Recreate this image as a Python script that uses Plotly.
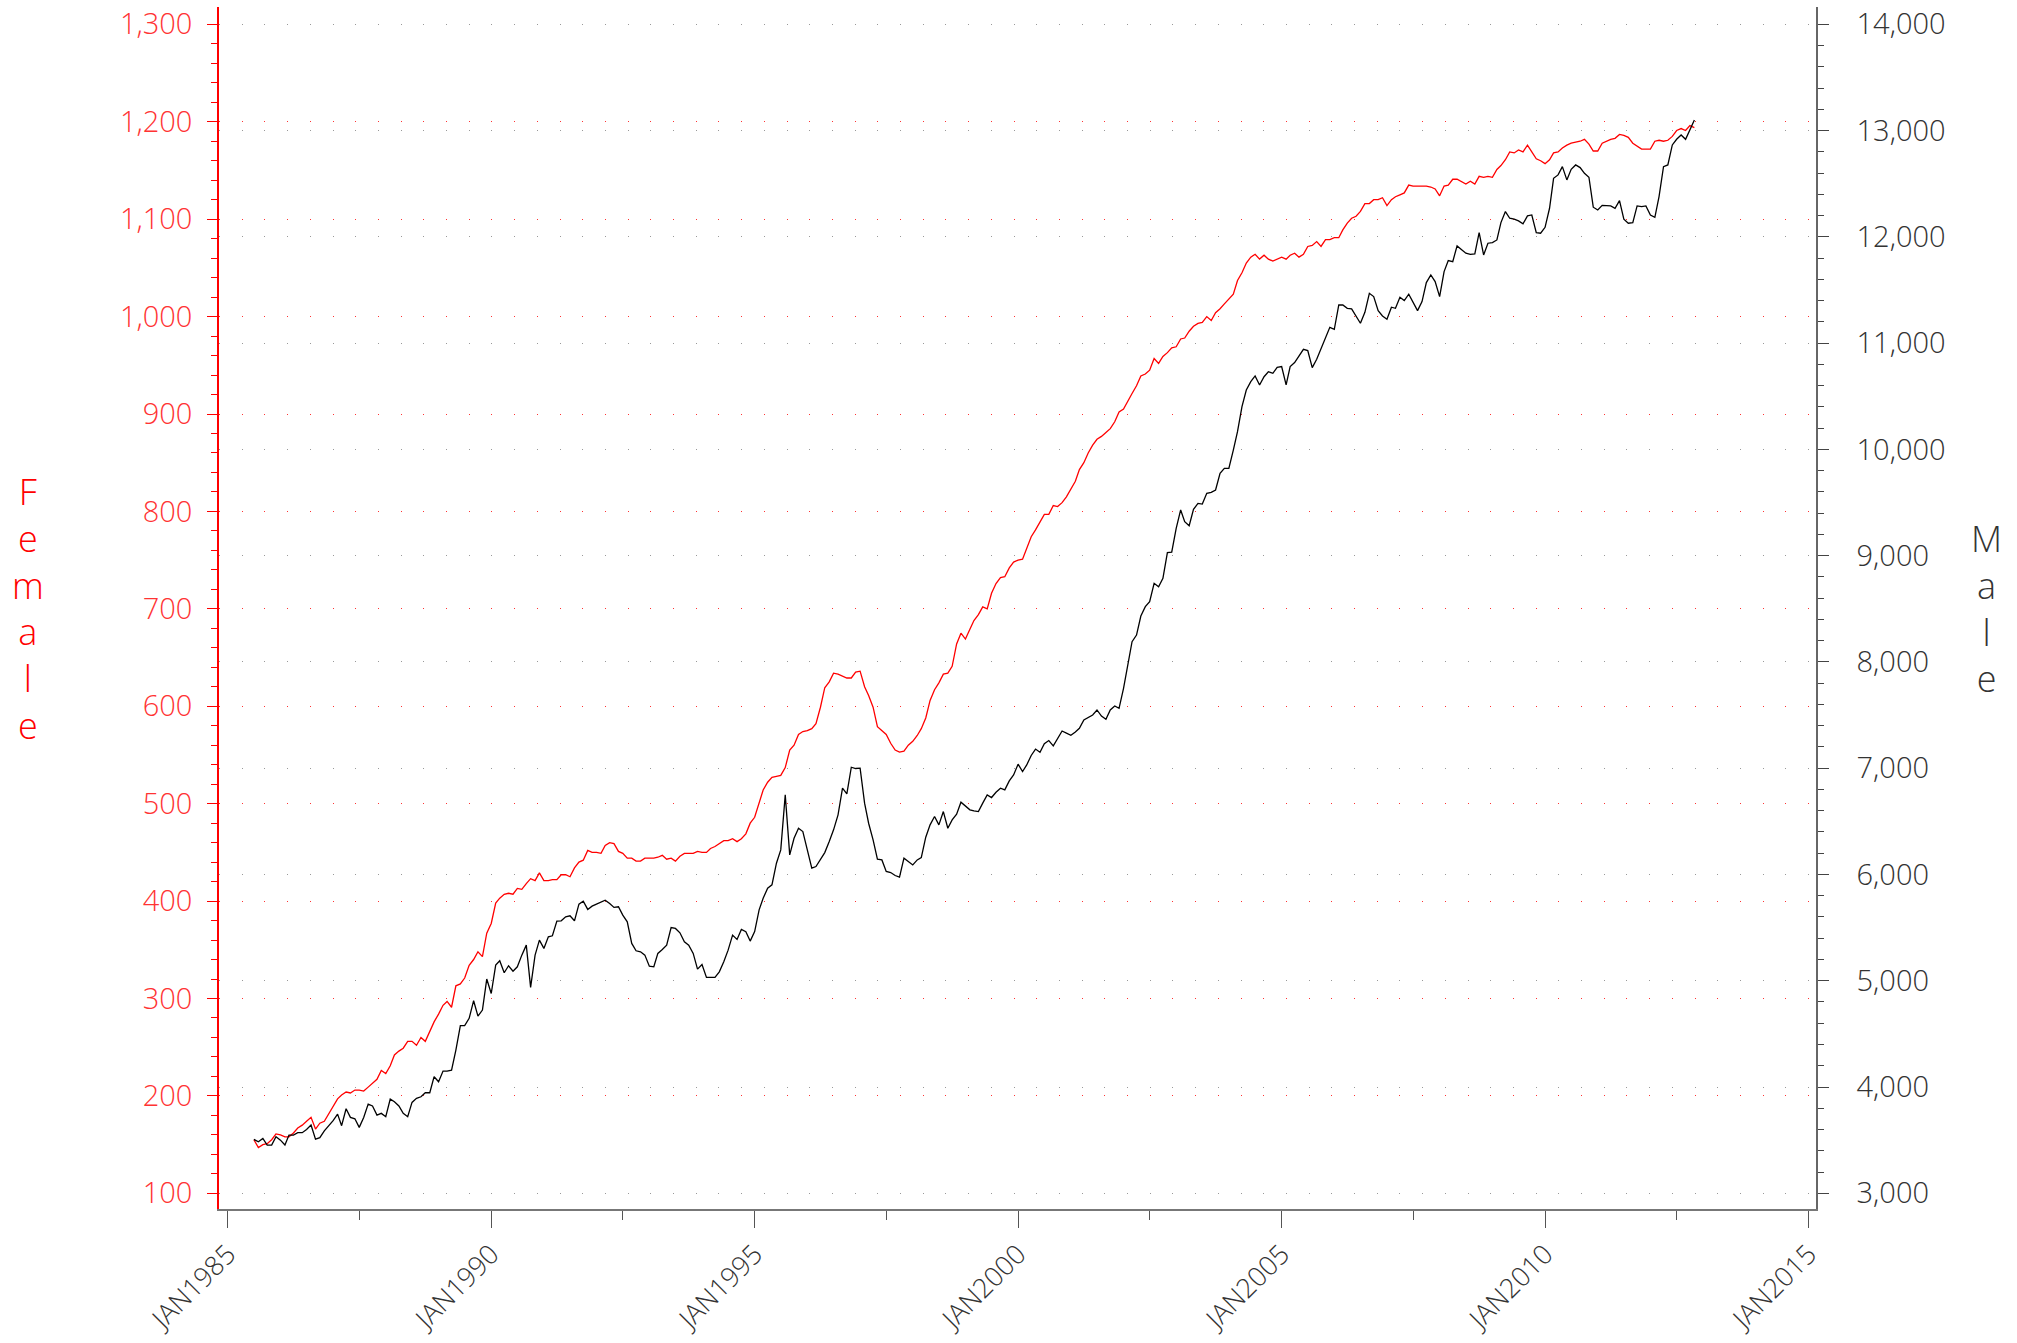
import plotly.graph_objects as go
import pandas as pd

# Monthly observations, Jul 1985 .. Nov 2012
months = pd.date_range("1985-07-01", "2012-11-01", freq="MS")

female = [
    # 1985 Jul-Dec
    155, 147, 150, 151, 155, 161,
    # 1986
    160, 158, 158, 162, 167, 170, 174, 178, 166, 172, 174, 182,
    # 1987
    189, 197, 201, 204, 203, 206, 206, 205, 209, 213, 217, 226,
    # 1988
    223, 231, 242, 246, 249, 256, 256, 252, 260, 256, 266, 276,
    # 1989
    284, 293, 297, 291, 313, 315, 321, 334, 340, 348, 343, 367,
    # 1990
    377, 398, 403, 407, 408, 407, 413, 412, 418, 423, 421, 429,
    # 1991
    421, 421, 422, 422, 427, 427, 425, 434, 440, 442, 452, 450,
    # 1992
    450, 449, 457, 460, 459, 451, 449, 444, 444, 441, 441, 444,
    # 1993
    444, 444, 445, 447, 443, 444, 441, 446, 449, 449, 449, 451,
    # 1994
    450, 450, 454, 456, 459, 462, 462, 464, 461, 464, 469, 480,
    # 1995
    486, 500, 514, 522, 527, 528, 529, 537, 555, 560, 571, 574,
    # 1996
    575, 577, 582, 599, 619, 625, 634, 633, 631, 629, 629, 635,
    # 1997
    636, 620, 611, 599, 579, 575, 571, 562, 555, 553, 554, 560,
    # 1998
    564, 570, 577, 588, 606, 617, 624, 633, 634, 641, 664, 675,
    # 1999
    669, 679, 688, 694, 702, 700, 716, 726, 732, 733, 742, 748,
    # 2000
    750, 751, 763, 774, 781, 790, 797, 797, 806, 805, 809, 815,
    # 2001
    823, 831, 843, 850, 860, 868, 874, 877, 881, 885, 892, 902,
    # 2002
    905, 914, 921, 929, 939, 941, 945, 957, 952, 959, 963, 968,
    # 2003
    969, 977, 978, 985, 990, 993, 994, 1000, 996, 1004, 1008, 1013,
    # 2004
    1018, 1023, 1037, 1045, 1055, 1061, 1064, 1059, 1063, 1059, 1057, 1059,
    # 2005
    1061, 1059, 1063, 1065, 1061, 1064, 1072, 1073, 1077, 1072, 1079, 1079,
    # 2006
    1081, 1081, 1089, 1096, 1101, 1103, 1108, 1116, 1116, 1120, 1120, 1122,
    # 2007
    1114, 1120, 1123, 1125, 1127, 1135, 1134, 1134, 1134, 1134, 1133, 1131,
    # 2008
    1124, 1134, 1135, 1141, 1141, 1138, 1136, 1139, 1136, 1144, 1143, 1144,
    # 2009
    1143, 1151, 1155, 1161, 1169, 1168, 1171, 1169, 1176, 1169, 1162, 1160,
    # 2010
    1157, 1161, 1168, 1169, 1173, 1176, 1178, 1179, 1180, 1182, 1177, 1170,
    # 2011
    1170, 1178, 1180, 1182, 1183, 1187, 1186, 1184, 1178, 1175, 1172, 1172,
    # 2012 Jan-Nov
    1172, 1180, 1181, 1180, 1181, 1185, 1191, 1193, 1191, 1196, 1194,
]

male = [
    # 1985 Jul-Dec
    3507, 3485, 3516, 3454, 3454, 3532,
    # 1986
    3500, 3454, 3548, 3548, 3570, 3570, 3601, 3642, 3510, 3523, 3588, 3632,
    # 1987
    3683, 3745, 3636, 3795, 3714, 3701, 3620, 3714, 3839, 3821, 3736, 3752,
    # 1988
    3720, 3886, 3861, 3821, 3752, 3720, 3855, 3893, 3908, 3946, 3946, 4097,
    # 1989
    4050, 4150, 4150, 4159, 4348, 4577, 4577, 4646, 4812, 4667, 4724, 5016,
    # 1990
    4880, 5147, 5188, 5075, 5141, 5090, 5131, 5241, 5335, 4937, 5241, 5382,
    # 1991
    5304, 5413, 5423, 5561, 5564, 5602, 5611, 5564, 5721, 5749, 5671, 5702,
    # 1992
    5721, 5733, 5758, 5727, 5690, 5696, 5617, 5555, 5351, 5282, 5272, 5241,
    # 1993
    5137, 5131, 5257, 5294, 5335, 5501, 5492, 5451, 5366, 5335, 5257, 5109,
    # 1994
    5153, 5031, 5031, 5031, 5084, 5178, 5288, 5429, 5388, 5482, 5461, 5373,
    # 1995
    5463, 5667, 5777, 5871, 5902, 6106, 6231, 6749, 6184, 6341, 6435, 6404,
    # 1996
    6231, 6059, 6075, 6137, 6206, 6310, 6420, 6561, 6812, 6758, 7009, 6997,
    # 1997
    7000, 6671, 6482, 6326, 6144, 6137, 6028, 6018, 5990, 5974, 6153, 6122,
    # 1998
    6090, 6137, 6159, 6351, 6467, 6545, 6467, 6592, 6435, 6514, 6567, 6680,
    # 1999
    6646, 6608, 6598, 6592, 6671, 6749, 6724, 6774, 6812, 6796, 6881, 6937,
    # 2000
    7038, 6969, 7031, 7120, 7180, 7150, 7230, 7260, 7210, 7280, 7350, 7330,
    # 2001
    7310, 7340, 7375, 7454, 7479, 7501, 7548, 7491, 7460, 7548, 7585, 7563,
    # 2002
    7752, 7987, 8191, 8253, 8432, 8520, 8567, 8740, 8708, 8787, 9028, 9034,
    # 2003
    9257, 9430, 9320, 9282, 9436, 9492, 9486, 9587, 9596, 9618, 9775, 9822,
    # 2004
    9822, 9994, 10167, 10402, 10559, 10637, 10691, 10606, 10684, 10731, 10716, 10772,
    # 2005
    10779, 10607, 10779, 10817, 10879, 10942, 10930, 10770, 10848, 10952, 11055, 11149,
    # 2006
    11130, 11359, 11359, 11328, 11322, 11256, 11187, 11290, 11469, 11438, 11306, 11256,
    # 2007
    11225, 11338, 11328, 11432, 11400, 11460, 11391, 11306, 11391, 11570, 11642, 11579,
    # 2008
    11438, 11673, 11777, 11767, 11915, 11877, 11846, 11836, 11839, 12040, 11830, 11940,
    # 2009
    11946, 11971, 12134, 12238, 12175, 12166, 12150, 12122, 12197, 12206, 12040, 12034,
    # 2010
    12090, 12269, 12551, 12583, 12661, 12536, 12636, 12677, 12652, 12598, 12561, 12279,
    # 2011
    12253, 12297, 12297, 12291, 12269, 12341, 12166, 12128, 12134, 12291, 12285, 12291,
    # 2012 Jan-Nov
    12206, 12184, 12379, 12661, 12677, 12865, 12918, 12959, 12918, 13006, 13100,
]

x_tick_years = [1985, 1990, 1995, 2000, 2005, 2010, 2015]
x_tick_labels = ["JAN1985", "JAN1990", "JAN1995", "JAN2000", "JAN2005", "JAN2010", "JAN2015"]
x_minor_ticks = ["1987-07-01", "1992-07-01", "1997-07-01", "2002-07-01", "2007-07-01", "2012-07-01"]
female_ticks = list(range(100, 1301, 100))
male_ticks = list(range(3000, 14001, 1000))

FONT = "Open Sans, Lato, sans-serif"
RED = "#FF0000"
YFONT_SIZE = 29
XFONT_SIZE = 27

fig = go.Figure()
fig.add_trace(go.Scatter(x=months, y=female, mode="lines", name="Female",
                         line=dict(color=RED, width=1.3), yaxis="y"))
fig.add_trace(go.Scatter(x=months, y=male, mode="lines", name="Male",
                         line=dict(color="#000000", width=1.3), yaxis="y2"))

fig.update_layout(
    width=2017, height=1343,
    margin=dict(l=219, r=201, t=7, b=134),
    paper_bgcolor="white", plot_bgcolor="white",
    showlegend=False,
    font=dict(family=FONT, size=YFONT_SIZE, color="#333333", weight=300),
    xaxis=dict(
        type="date", range=["1984-11-01", "2015-02-22"], automargin=False,
        tickvals=[f"{y}-01-01" for y in x_tick_years], ticktext=x_tick_labels,
        tickangle=-45, ticks="outside", ticklen=17, tickcolor="#555555", tickwidth=1,
        showline=True, linecolor="#777777", linewidth=1.5,
        showgrid=False, zeroline=False, ticklabelstandoff=0,
        tickfont=dict(family=FONT, size=XFONT_SIZE, color="#333333", weight=300),
        minor=dict(tickvals=x_minor_ticks, ticks="outside", ticklen=9, tickcolor="#555555"),
    ),
    yaxis=dict(
        range=[83.9, 1317.8], tickvals=female_ticks, tickformat=",d", automargin=False,
        ticks="outside", ticklen=10, tickcolor=RED, tickwidth=1,
        showline=True, linecolor=RED, linewidth=1.5,
        showgrid=True, gridcolor="#FF3333", gridwidth=1, griddash="1px,21.7px",
        zeroline=False, ticklabelstandoff=9,
        tickfont=dict(family=FONT, size=YFONT_SIZE, color="#FF3333", weight=300),
        minor=dict(dtick=20, tick0=0, ticks="outside", ticklen=6, tickcolor=RED, showgrid=False),
    ),
    yaxis2=dict(
        overlaying="y", side="right", anchor="x", automargin=False,
        range=[2852, 14163], tickvals=male_ticks, tickformat=",d",
        ticks="outside", ticklen=11, tickcolor="#444444", tickwidth=1,
        showline=True, linecolor="#666666", linewidth=1.5,
        showgrid=True, gridcolor="#999999", gridwidth=1, griddash="1px,21.7px",
        zeroline=False, ticklabelstandoff=22,
        tickfont=dict(family=FONT, size=YFONT_SIZE, color="#333333", weight=300),
        minor=dict(dtick=200, tick0=0, ticks="outside", ticklen=6, tickcolor="#444444", showgrid=False),
    ),
    annotations=[
        dict(text="<br>".join("Female"), xref="paper", yref="paper",
             x=-0.1196, y=0.5, xanchor="center", yanchor="middle", showarrow=False,
             align="center", font=dict(family=FONT, size=36, color=RED, weight=300)),
        dict(text="<br>".join("Male"), xref="paper", yref="paper",
             x=1.107, y=0.5, xanchor="center", yanchor="middle", showarrow=False,
             align="center", font=dict(family=FONT, size=36, color="#333333", weight=300)),
    ],
)

fig.write_html("out.html", config={"displayModeBar": False},
               post_script="document.body.style.margin='0';document.body.style.overflow='hidden';")
